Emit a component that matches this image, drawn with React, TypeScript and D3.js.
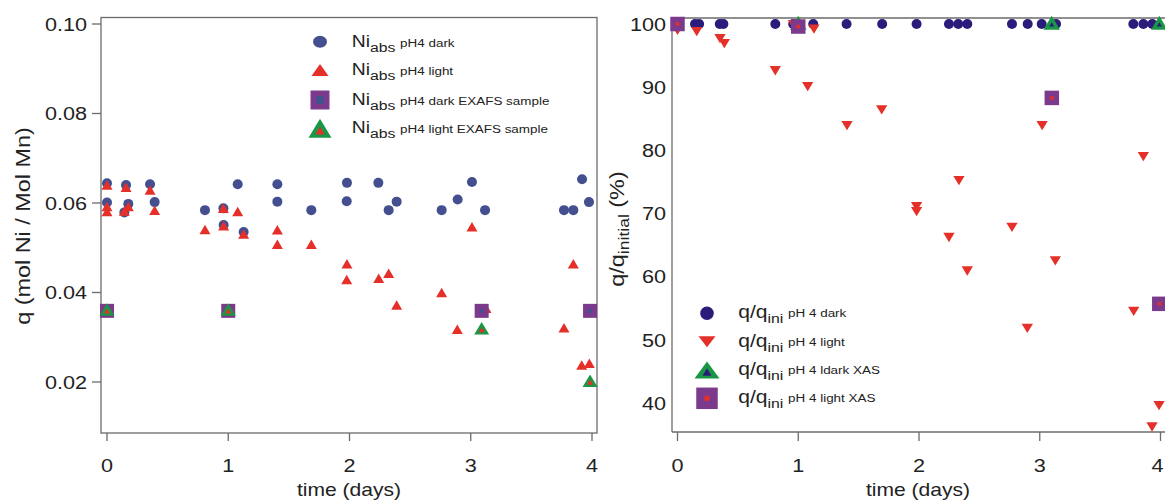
import React from "react";
import * as d3 from "d3";

// ---------- DATA ----------
const dayTicks = [0, 1, 2, 3, 4];
const leftYTicks = [0.02, 0.04, 0.06, 0.08, 0.1];
const rightYTicks = [40, 50, 60, 70, 80, 90, 100];

const leftDarkDays = [0, 0, 0.143, 0.157, 0.176, 0.355, 0.393, 0.808, 0.96, 0.962, 1.078, 1.127, 1.405, 1.405, 1.685, 1.977, 1.979, 2.238, 2.323, 2.389, 2.76, 2.892, 3.01, 3.118, 3.769, 3.846, 3.918, 3.975];
const leftDarkQ = [0.0644, 0.0601, 0.0579, 0.064, 0.0598, 0.0642, 0.0602, 0.0584, 0.0588, 0.0551, 0.0642, 0.0535, 0.0642, 0.0603, 0.0584, 0.0604, 0.0645, 0.0645, 0.0584, 0.0603, 0.0584, 0.0608, 0.0647, 0.0584, 0.0584, 0.0584, 0.0653, 0.0602];

const leftLightDays = [0, 0, 0, 0.143, 0.157, 0.176, 0.355, 0.393, 0.808, 0.96, 0.962, 1.078, 1.127, 1.405, 1.405, 1.685, 1.977, 1.979, 2.241, 2.323, 2.389, 2.76, 2.889, 3.01, 3.126, 3.769, 3.846, 3.915, 3.978];
const leftLightQ = [0.064, 0.0592, 0.0581, 0.0582, 0.0635, 0.0592, 0.0629, 0.0584, 0.0541, 0.0588, 0.0549, 0.0581, 0.0531, 0.054, 0.0508, 0.0508, 0.0429, 0.0464, 0.0432, 0.0443, 0.0372, 0.04, 0.0318, 0.0547, 0.0365, 0.0321, 0.0464, 0.0238, 0.0242];

const leftExafsDarkDays = [0, 1, 3.09, 3.984];
const leftExafsDarkQ = [0.0359, 0.0359, 0.0359, 0.0359];
const leftExafsLightDays = [0, 1, 3.09, 3.984];
const leftExafsLightQ = [0.0362, 0.0362, 0.032, 0.0203];

const rightDarkDays = [0, 0.145, 0.179, 0.35, 0.38, 0.81, 0.958, 1.124, 1.4, 1.695, 1.98, 2.248, 2.325, 2.4, 2.77, 2.9, 3.016, 3.135, 3.775, 3.858, 3.932];
const rightDarkPct = [100, 100, 100, 100, 100, 100, 100, 100, 100, 100, 100, 100, 100, 100, 100, 100, 100, 100, 100, 100, 100];

const rightLightDays = [0, 0.159, 0.352, 0.388, 0.81, 0.96, 1.078, 1.13, 1.404, 1.691, 1.98, 1.98, 2.248, 2.331, 2.4, 2.77, 2.897, 3.02, 3.129, 3.778, 3.858, 3.93, 3.988];
const rightLightPct = [99, 98.8, 97.7, 96.9, 92.6, 99.9, 90.1, 99.2, 83.9, 86.4, 71.1, 70.3, 66.2, 75.2, 60.9, 67.8, 51.8, 83.9, 62.5, 54.5, 79.0, 36.2, 39.6];

const rightXasDarkDays = [1, 3.099, 3.99];
const rightXasDarkPct = [100.2, 100.2, 100.2];
const rightXasLightDays = [0, 1, 3.1, 3.99];
const rightXasLightPct = [100, 99.6, 88.3, 55.7];

const leftLegend = ["pH4 dark", "pH4 light", "pH4 dark EXAFS sample", "pH4 light EXAFS sample"];
const rightLegend = ["pH 4 dark", "pH 4 light", "pH 4 ldark XAS", "pH 4 light XAS"];

// ---------- STYLE ----------
const BLUE_L = "#434f8e";
const BLUE_R = "#2b1c7c";
const RED = "#e5302a";
const PURPLE = "#7c3a8d";
const GREEN = "#1a9745";
const AXIS = "#6b6b6b";
const TXT = "#222";
const FONT = "'Liberation Sans', Arial, Helvetica, sans-serif";
const SX = 1.17;

function T({ x, y, size, anchor = "start", rotate = false, children }: any) {
  const tr = rotate
    ? `translate(${x},${y}) rotate(-90) scale(${SX},1)`
    : `translate(${x},${y}) scale(${SX},1)`;
  return (
    <text transform={tr} textAnchor={anchor} fontSize={size} fontFamily={FONT} fill={TXT}>
      {children}
    </text>
  );
}

const triUp = (x: number, y: number, w: number, h: number) =>
  `M${x},${y - h / 2}L${x + w / 2},${y + h / 2}L${x - w / 2},${y + h / 2}Z`;
const triDown = (x: number, y: number, w: number, h: number) =>
  `M${x},${y + h / 2}L${x + w / 2},${y - h / 2}L${x - w / 2},${y - h / 2}Z`;

function Sq({ x, y, s, fill, inner, innerFill }: any) {
  return (
    <g>
      <rect x={x - s / 2} y={y - s / 2} width={s} height={s} fill={fill} />
      <rect x={x - inner / 2} y={y - inner / 2} width={inner} height={inner} fill={innerFill} />
    </g>
  );
}
function GTri({ x, y, w, h, inner, innerFill }: any) {
  return (
    <g>
      <path d={triUp(x, y, w, h)} fill={GREEN} />
      <path d={triUp(x, y + h * 0.12, inner, inner * 0.85)} fill={innerFill} />
    </g>
  );
}

export default function App() {
  // left scales
  const lx = d3.scaleLinear().domain([0, 4]).range([107, 592]);
  const ly = d3.scaleLinear().domain([0.02, 0.1]).range([382, 24]);
  // right scales
  const rx = d3.scaleLinear().domain([0, 4]).range([677.5, 1160.5]);
  const ry = d3.scaleLinear().domain([40, 100]).range([403, 24]);

  const L = { l: 101, r: 597, t: 17.5, b: 433 };
  const R = { l: 672, r: 1165, t: 18, b: 432 };
  const fmt = d3.format(".2f");

  const leftRows = [41.7, 70, 100, 128.3];
  const rightRows = [313.3, 341.7, 370, 398.3];

  return (
    <svg width={1165} height={502} style={{ position: "absolute", left: 0, top: 0, background: "#fff" }}>
      {/* ---------------- LEFT PANEL ---------------- */}
      <rect x={L.l} y={L.t} width={L.r - L.l} height={L.b - L.t} fill="none" stroke={AXIS} strokeWidth={1.3} />
      {leftYTicks.map((t) => (
        <g key={"ly" + t}>
          <line x1={92} x2={L.l} y1={ly(t)} y2={ly(t)} stroke={AXIS} strokeWidth={1.3} />
          <T x={87} y={ly(t) + 6.8} size={18.5} anchor="end">{fmt(t)}</T>
        </g>
      ))}
      {dayTicks.map((t) => (
        <g key={"lx" + t}>
          <line x1={lx(t)} x2={lx(t)} y1={L.b} y2={L.b + 8} stroke={AXIS} strokeWidth={1.3} />
          <T x={lx(t)} y={472} size={18.5} anchor="middle">{t}</T>
        </g>
      ))}
      <T x={349} y={496} size={18} anchor="middle">time (days)</T>
      <T x={30} y={226} size={20} anchor="middle" rotate>q (mol Ni / Mol Mn)</T>

      {leftDarkDays.map((d, i) => (
        <circle key={"ld" + i} cx={lx(d)} cy={ly(leftDarkQ[i])} r={5} fill={BLUE_L} />
      ))}
      {leftLightDays.map((d, i) => (
        <path key={"ll" + i} d={triUp(lx(d), ly(leftLightQ[i]), 11, 9.5)} fill={RED} />
      ))}
      {leftExafsDarkDays.map((d, i) => (
        <Sq key={"les" + i} x={lx(d)} y={ly(leftExafsDarkQ[i])} s={14} inner={4} innerFill={BLUE_L} fill={PURPLE} />
      ))}
      {leftExafsLightDays.map((d, i) => (
        <GTri key={"lel" + i} x={lx(d)} y={ly(leftExafsLightQ[i])} w={15} h={12.5} inner={6} innerFill={RED} />
      ))}

      {/* left legend */}
      <ellipse cx={320} cy={leftRows[0]} rx={7} ry={6} fill={BLUE_L} />
      <path d={triUp(320, leftRows[1], 17, 12)} fill={RED} />
      <Sq x={320} y={leftRows[2]} s={19} inner={8} fill={PURPLE} innerFill={BLUE_L} />
      <GTri x={320} y={leftRows[3]} w={23} h={19} inner={9} innerFill={RED} />
      {leftLegend.map((s, i) => (
        <T key={"lt" + i} x={351.7} y={leftRows[i] + 5} size={16.5}>
          <tspan>Ni</tspan>
          <tspan fontSize={13.5} dy={5}>abs</tspan>
          <tspan fontSize={11.5} dy={-5} dx={4}>{s}</tspan>
        </T>
      ))}

      {/* ---------------- RIGHT PANEL ---------------- */}
      <line x1={R.l} x2={R.l} y1={R.t} y2={R.b} stroke={AXIS} strokeWidth={1.3} />
      <line x1={R.l} x2={R.r} y1={R.t} y2={R.t} stroke={AXIS} strokeWidth={1.3} />
      <line x1={R.l} x2={R.r} y1={R.b} y2={R.b} stroke={AXIS} strokeWidth={1.3} />
      {rightYTicks.map((t) => (
        <T key={"ry" + t} x={666} y={ry(t) + 6.8} size={18.5} anchor="end">{t}</T>
      ))}
      {dayTicks.map((t) => (
        <g key={"rx" + t}>
          <line x1={rx(t)} x2={rx(t)} y1={R.b} y2={R.b + 9} stroke={AXIS} strokeWidth={1.3} />
          <T x={Math.min(rx(t), 1157.5)} y={472} size={18.5} anchor="middle">{t}</T>
        </g>
      ))}
      <T x={918} y={496} size={18} anchor="middle">time (days)</T>
      <T x={624} y={229} size={20} anchor="middle" rotate>
        <tspan>q/q</tspan>
        <tspan fontSize={15} dy={5}>initial</tspan>
        <tspan dy={-5}> (%)</tspan>
      </T>

      {rightDarkDays.map((d, i) => (
        <circle key={"rd" + i} cx={rx(d)} cy={ry(rightDarkPct[i])} r={5} fill={BLUE_R} />
      ))}
      {rightLightDays.map((d, i) => (
        <path key={"rl" + i} d={triDown(rx(d), ry(rightLightPct[i]), 11.3, 9.3)} fill={RED} />
      ))}
      {rightXasDarkDays.map((d, i) => (
        <GTri key={"rxd" + i} x={rx(d)} y={ry(rightXasDarkPct[i])} w={16.5} h={14} inner={5} innerFill={BLUE_R} />
      ))}
      {rightXasLightDays.map((d, i) => (
        <Sq key={"rxl" + i} x={rx(d)} y={ry(rightXasLightPct[i])} s={14.5} inner={3.5} fill={PURPLE} innerFill={RED} />
      ))}

      {/* right legend */}
      <circle cx={707} cy={rightRows[0]} r={6.8} fill={BLUE_R} />
      <path d={triDown(707, rightRows[1], 17, 11)} fill={RED} />
      <GTri x={707} y={rightRows[2]} w={25} h={17} inner={9} innerFill={BLUE_R} />
      <Sq x={707} y={rightRows[3]} s={21.5} inner={5} fill={PURPLE} innerFill={RED} />
      {rightLegend.map((s, i) => (
        <T key={"rt" + i} x={738.3} y={rightRows[i] + 5} size={18}>
          <tspan>q/q</tspan>
          <tspan fontSize={13.5} dy={5}>ini</tspan>
          <tspan fontSize={11.5} dy={-6} dx={4}>{s}</tspan>
        </T>
      ))}
    </svg>
  );
}
